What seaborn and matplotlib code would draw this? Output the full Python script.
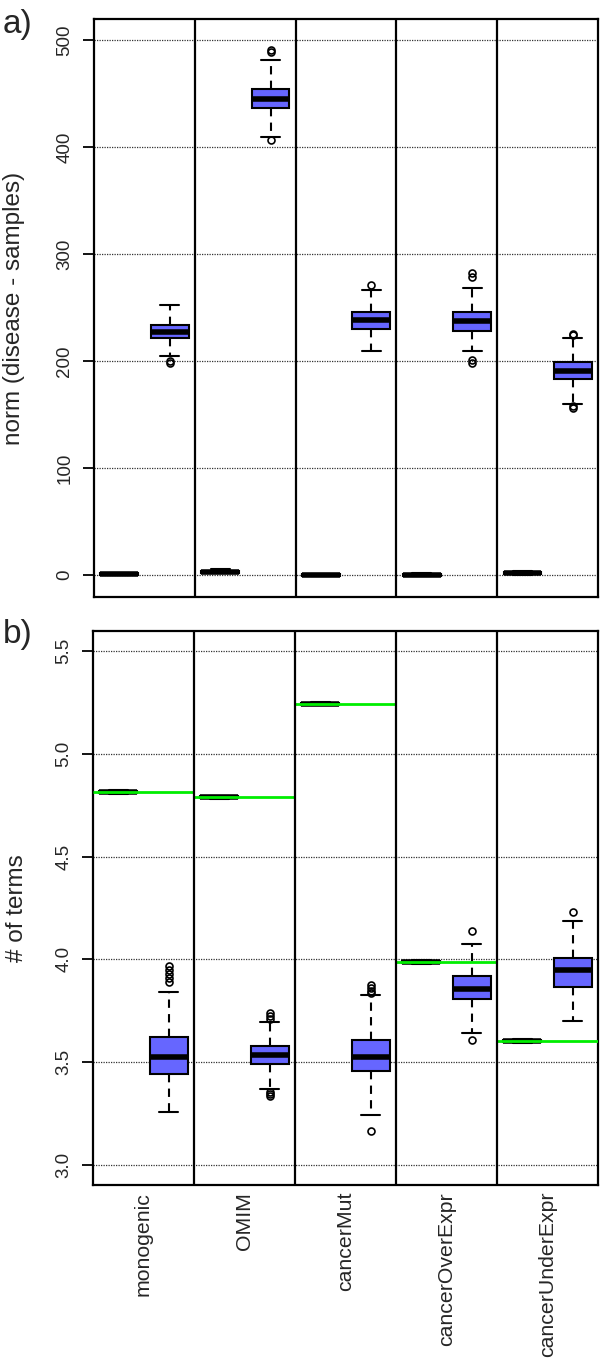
import numpy as np
import pandas as pd
import matplotlib
matplotlib.use('Agg')
import matplotlib.pyplot as plt
import seaborn as sns

# --- data ---
categories = ['monogenic', 'OMIM', 'cancerMut', 'cancerOverExpr', 'cancerUnderExpr']

# a) norm (disease - samples): disease boxes (tiny, near 0)
a_dis_lo = [0.0, 1.5, -1.0, -1.0, 0.0]
a_dis_q1 = [0.0, 2.0, -1.0, -1.0, 1.0]
a_dis_med = [1.0, 3.0, 0.0, 0.0, 2.0]
a_dis_q3 = [2.0, 4.0, 1.0, 1.0, 3.0]
a_dis_hi = [2.0, 5.5, 1.0, 2.0, 4.0]
a_dis_out = [[], [], [], [], []]

# a) samples boxes
a_smp_lo = [205, 409.5, 209, 209, 160]
a_smp_q1 = [221, 436, 230, 228, 183]
a_smp_med = [227, 445, 238, 237, 191]
a_smp_q3 = [234, 454, 246, 246, 199]
a_smp_hi = [252, 481, 266, 268, 221]
a_smp_out = [[198, 200], [406.5, 489, 491], [271], [198.5, 200.5, 278, 282], [156, 158, 224, 225]]

# b) # of terms: disease boxes
b_dis_lo = [4.803, 4.780, 5.235, 3.978, 3.595]
b_dis_q1 = [4.808, 4.785, 5.239, 3.983, 3.600]
b_dis_med = [4.813, 4.789, 5.244, 3.987, 3.604]
b_dis_q3 = [4.818, 4.793, 5.248, 3.991, 3.608]
b_dis_hi = [4.823, 4.797, 5.252, 3.995, 3.612]
b_dis_out = [[], [], [], [], []]

# b) samples boxes
b_smp_lo = [3.256, 3.370, 3.246, 3.640, 3.703]
b_smp_q1 = [3.444, 3.493, 3.457, 3.807, 3.867]
b_smp_med = [3.527, 3.533, 3.527, 3.857, 3.947]
b_smp_q3 = [3.621, 3.577, 3.606, 3.919, 4.006]
b_smp_hi = [3.844, 3.697, 3.828, 4.076, 4.185]
b_smp_out = [[3.89, 3.91, 3.93, 3.95, 3.97],
             [3.335, 3.345, 3.355, 3.71, 3.725, 3.74],
             [3.167, 3.835, 3.845, 3.86, 3.875],
             [3.608, 4.139],
             [4.232]]

a_ticks = [0, 100, 200, 300, 400, 500]
b_ticks = [3.0, 3.5, 4.0, 4.5, 5.0, 5.5]

BLUE = '#6666ff'
GREEN = '#00ee00'


def box_values(lo, q1, med, q3, hi, out):
    # sample whose quartiles / whiskers / fliers match the read summary
    return [lo, hi] + [q1] * 20 + [med] * 20 + [q3] * 20 + list(out)


def build_frame(dis, smp):
    rows = []
    for i in range(len(categories)):
        for k, stats in enumerate((dis, smp)):
            vals = box_values(*[s[i] for s in stats])
            for v in vals:
                rows.append({'pos': 2 * i + 1 + k, 'value': v})
    return pd.DataFrame(rows)


df_a = build_frame((a_dis_lo, a_dis_q1, a_dis_med, a_dis_q3, a_dis_hi, a_dis_out),
                   (a_smp_lo, a_smp_q1, a_smp_med, a_smp_q3, a_smp_hi, a_smp_out))
df_b = build_frame((b_dis_lo, b_dis_q1, b_dis_med, b_dis_q3, b_dis_hi, b_dis_out),
                   (b_smp_lo, b_smp_q1, b_smp_med, b_smp_q3, b_smp_hi, b_smp_out))

sns.set_style('white')
plt.rcParams['font.family'] = ['Liberation Sans', 'DejaVu Sans']

fig = plt.figure(figsize=(6, 13.64), dpi=100)
ax_a = fig.add_axes([0.157, 0.5623, 0.8397, 0.4238])
ax_b = fig.add_axes([0.155, 0.1312, 0.8417, 0.4062])

box_kws = dict(native_scale=True, width=0.75, color=BLUE, saturation=1,
               linecolor='black', linewidth=1.5,
               medianprops={'linewidth': 4, 'color': 'black'},
               whiskerprops={'linestyle': (0, (4, 3)), 'linewidth': 1.5},
               capprops={'linewidth': 1.5},
               flierprops={'marker': 'o', 'markerfacecolor': 'none',
                           'markeredgecolor': 'black', 'markersize': 5,
                           'markeredgewidth': 1.2})

sns.boxplot(data=df_a, x='pos', y='value', ax=ax_a, **box_kws)
sns.boxplot(data=df_b, x='pos', y='value', ax=ax_b, **box_kws)

n = len(categories)
seps = [2 * i + 0.5 for i in range(1, n)]

# green reference lines at the disease value across each group
ax_b.hlines(b_dis_med, [2 * i + 0.5 for i in range(n)], [2 * i + 2.5 for i in range(n)],
            color=GREEN, linewidth=2, zorder=5)

for ax, ticks, ylim, ylab in ((ax_a, a_ticks, (-20.6, 519.6), 'norm (disease - samples)'),
                              (ax_b, b_ticks, (2.903, 5.597), '# of terms')):
    ax.set_xlim(0.5, 2 * n + 0.5)
    ax.set_ylim(*ylim)
    for s in seps:
        ax.axvline(s, color='black', linewidth=1.6, zorder=6)
    ax.set_yticks(ticks)
    ax.yaxis.grid(True, linestyle=(0, (1, 1)), color='#333333', linewidth=0.9)
    ax.xaxis.grid(False)
    ax.set_axisbelow(True)
    for sp in ax.spines.values():
        sp.set_color('black')
        sp.set_linewidth(1.6)
    ax.tick_params(axis='y', length=8, width=1.3, pad=7, labelsize=13.5,
                   labelrotation=90, left=True, color='black')
    for lbl in ax.get_yticklabels():
        lbl.set_verticalalignment('center')
    ax.set_ylabel(ylab, fontsize=17.5)
    ax.set_xlabel('')

ax_a.yaxis.set_label_coords(-0.138, 0.5)
ax_b.yaxis.set_label_coords(-0.128, 0.5)
ax_b.set_yticklabels(['%.1f' % t for t in b_ticks])

ax_a.set_xticks([])
ax_b.set_xticks([2 * i + 1.5 for i in range(n)])
ax_b.set_xticklabels(categories, rotation=90, fontsize=15.3, va='top')
ax_b.tick_params(axis='x', length=0, pad=5)

fig.text(0.005, 1 - 24 / 1364, 'a)', fontsize=24, va='center', ha='left')
fig.text(0.005, 1 - 634 / 1364, 'b)', fontsize=24, va='center', ha='left')

fig.savefig('out.png', dpi=100)
